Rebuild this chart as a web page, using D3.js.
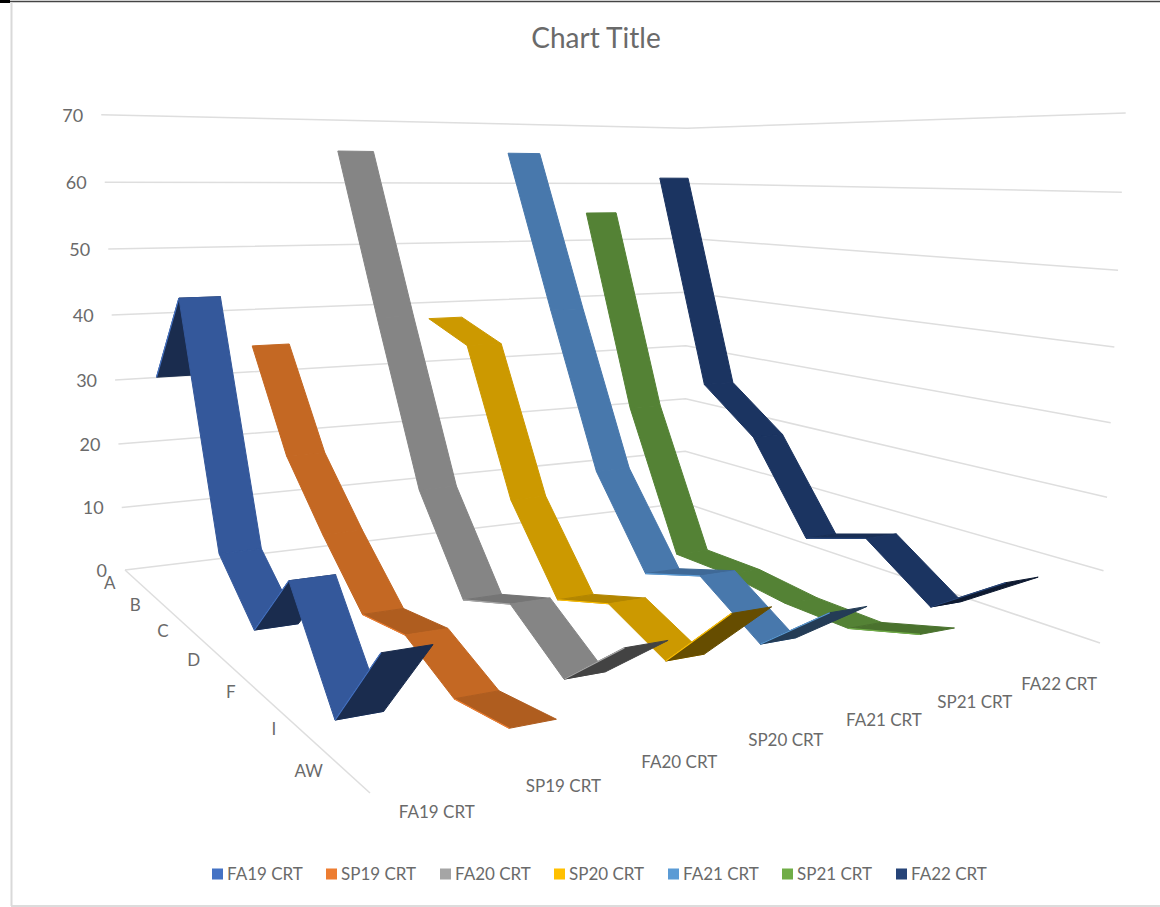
<!DOCTYPE html>
<html>
<head>
<meta charset="utf-8">
<title>Chart Title</title>
<script src="https://cdn.jsdelivr.net/npm/d3@7"></script>
<style>
  body { margin: 0; background: #fff; }
  text { font-family: Lato, "Open Sans", sans-serif; fill: #6a6a6a; }
</style>
</head>
<body>
<div id="chart"></div>
<script>
const width = 1160;
const height = 907;

const categories = ['A', 'B', 'C', 'D', 'F', 'I', 'AW'];
const seriesNames = ['FA19 CRT', 'SP19 CRT', 'FA20 CRT', 'SP20 CRT', 'FA21 CRT', 'SP21 CRT', 'FA22 CRT'];

const fa19 = [31, 44, 10, 3, 13, 0, 12];
const sp19 = [35, 20, 11, 3, 4, 0, 1];
const fa20 = [65, 40, 16, 3, 6, 0, 8];
const sp20 = [38, 35, 13, 1, 4, 0, 10];
const fa21 = [65, 40, 16, 3, 6, 0, 8];
const sp21 = [55, 23, 1, 1, 0, 0, 3];
const fa22 = [61, 26, 19, 5, 8, 1, 8];
const allSeries = [fa19, sp19, fa20, sp20, fa21, sp21, fa22];

const colors = ['#4472c4', '#ed7d31', '#a5a5a5', '#ffc000', '#5b9bd5', '#70ad47', '#264478'];
const ribbonColors = ['#34589b', '#c46823', '#858585', '#cc9900', '#4878ac', '#548235', '#1b3461'];

// walls and floor of the 3d box, as seen by the camera
const floorLeft = [125, 570], floorFront = [370, 793], floorRight = [1100, 643], floorBack = [685, 503];
const topLeft = [100, 119], topBack = [685, 126], topRight = [1130, 111];

function solveHomography(p0, p1, p2, p3) {
  const dx1 = p1[0] - p2[0], dx2 = p3[0] - p2[0], sx = p0[0] - p1[0] + p2[0] - p3[0];
  const dy1 = p1[1] - p2[1], dy2 = p3[1] - p2[1], sy = p0[1] - p1[1] + p2[1] - p3[1];
  const den = dx1 * dy2 - dx2 * dy1;
  const g = (sx * dy2 - dx2 * sy) / den;
  const h = (dx1 * sy - sx * dy1) / den;
  return {
    a: p1[0] - p0[0] + g * p1[0], b: p3[0] - p0[0] + h * p3[0], c: p0[0],
    d: p1[1] - p0[1] + g * p1[1], e: p3[1] - p0[1] + h * p3[1], f: p0[1],
    g, h
  };
}
const floorH = solveHomography(floorLeft, floorFront, floorRight, floorBack);

function floorCoords(u, v) {
  return [
    floorH.a * u + floorH.b * v + floorH.c,
    floorH.d * u + floorH.e * v + floorH.f,
    floorH.g * u + floorH.h * v + 1
  ];
}

// height column of the camera matrix, least squares over the three top corners.
// x rows get a low weight: the heights matter more than the lean of the walls
function solveHeight() {
  const rows = [];
  const xWeight = 0.05;
  [[0, 0, topLeft], [0, 1, topBack], [1, 1, topRight]].forEach(([u, v, p]) => {
    const [X, Y, W] = floorCoords(u, v);
    rows.push([xWeight, 0, -p[0] * xWeight, (p[0] * W - X) * xWeight]);
    rows.push([0, 1, -p[1], p[1] * W - Y]);
  });
  const m = [0, 1, 2].map(i => [0, 1, 2, 3].map(j => d3.sum(rows, r => r[i] * r[j])));
  for (let i = 0; i < 3; i++) {
    for (let k = 0; k < 3; k++) {
      if (k === i) continue;
      const f = m[k][i] / m[i][i];
      for (let j = i; j < 4; j++) m[k][j] -= f * m[i][j];
    }
  }
  return { p: m[0][3] / m[0][0], q: m[1][3] / m[1][1], r: m[2][3] / m[2][2] };
}
const heightCol = solveHeight();

const uScale = d3.scaleBand().domain(categories).range([0, 1]);
const vScale = d3.scaleBand().domain(seriesNames).range([0, 1]);
const hScale = d3.scaleLinear().domain([0, 70]).range([0, 1]);

const ribbonDepth = 0.057;

function project(u, v, value) {
  const [X, Y, W] = floorCoords(u, v);
  const t = hScale(value);
  const w = W + heightCol.r * t;
  return [(X + heightCol.p * t) / w, (Y + heightCol.q * t) / w];
}

const uMid = c => uScale(c) + uScale.bandwidth() / 2;
const vMid = s => vScale(s) + vScale.bandwidth() / 2;

// rising segments show their underside, the steeper the darker
const shade = d3.scaleLinear().domain([0, 5, 7]).range([0.9, 0.86, 0.5]).clamp(true);

function darken(color, k) {
  const c = d3.rgb(color);
  return d3.rgb(c.r * k, c.g * k, c.b * k).formatHex();
}

const svg = d3.select('#chart').append('svg')
  .attr('width', width)
  .attr('height', height);

svg.append('rect').attr('width', width).attr('height', height).attr('fill', '#fff');

// chart frame
svg.append('line').attr('x1', 0).attr('x2', width).attr('y1', 1.5).attr('y2', 1.5)
  .attr('stroke', '#444').attr('stroke-width', 1.5);
svg.append('line').attr('x1', 0).attr('x2', 10).attr('y1', 1.5).attr('y2', 1.5)
  .attr('stroke', '#000').attr('stroke-width', 3);
svg.append('line').attr('x1', 11.5).attr('x2', 11.5).attr('y1', 2).attr('y2', 906)
  .attr('stroke', '#d9d9d9').attr('stroke-width', 2);
svg.append('line').attr('x1', 11).attr('x2', width).attr('y1', 906).attr('y2', 906)
  .attr('stroke', '#dcdcdc').attr('stroke-width', 2);

svg.append('text')
  .attr('x', 596).attr('y', 48)
  .attr('text-anchor', 'middle')
  .style('font-size', '28px')
  .text('Chart Title');

// gridlines on the two walls
const line = d3.line();
const ticks = hScale.ticks(7);
svg.append('g').selectAll('path')
  .data(ticks)
  .enter()
  .append('path')
    .attr('d', d => line([project(0, 0, d), project(0, 1, d), project(1, 1, d)]))
    .attr('fill', 'none')
    .attr('stroke', '#dedede')
    .attr('stroke-width', 1.5);

svg.append('path')
  .attr('d', line([project(0, 0, 0), project(1, 0, 0)]))
  .attr('fill', 'none')
  .attr('stroke', '#dedede')
  .attr('stroke-width', 1.5);

svg.append('g').selectAll('text')
  .data(ticks)
  .enter()
  .append('text')
    .attr('x', d => project(0, 0, d)[0] - 18)
    .attr('y', d => project(0, 0, d)[1] + 7)
    .attr('text-anchor', 'end')
    .style('font-size', '18px')
    .text(d => d);

svg.append('g').selectAll('text')
  .data(categories)
  .enter()
  .append('text')
    .attr('x', d => project(uMid(d), 0, 0)[0] - 21)
    .attr('y', d => project(uMid(d), 0, 0)[1] + 8)
    .attr('text-anchor', 'end')
    .style('font-size', '17px')
    .text(d => d);

svg.append('g').selectAll('text')
  .data(seriesNames)
  .enter()
  .append('text')
    .attr('x', d => project(1, vMid(d), 0)[0] - 1)
    .attr('y', d => project(1, vMid(d), 0)[1] + 39)
    .attr('text-anchor', 'middle')
    .style('font-size', '17px')
    .text(d => d);

// ribbons, far series first so the nearer ones paint over them
const order = d3.range(seriesNames.length).reverse();
const ribbons = svg.append('g').selectAll('g')
  .data(order)
  .enter()
  .append('g');

ribbons.each(function(s) {
  const values = allSeries[s];
  const v = vMid(seriesNames[s]);
  const segs = d3.range(values.length - 1);
  const corners = (i, j) => project(uMid(categories[i]), v + j * ribbonDepth / 2, values[i]);

  d3.select(this).selectAll('g')
    .data(segs)
    .enter()
    .append('g')
    .each(function(i) {
      const seg = d3.select(this);
      const rise = values[i + 1] - values[i];
      const fill = rise > 0 ? darken(ribbonColors[s], shade(rise)) : ribbonColors[s];
      seg.append('path')
        .attr('d', line([corners(i, -1), corners(i, 1), corners(i + 1, 1), corners(i + 1, -1)]) + 'Z')
        .attr('fill', fill)
        .attr('stroke', fill)
        .attr('stroke-width', 1)
        .attr('stroke-linejoin', 'round');
      // thin lit edge on the near side
      if (rise > 0) {
        seg.append('path')
          .attr('d', line([corners(i, -1), corners(i + 1, -1)]))
          .attr('fill', 'none')
          .attr('stroke', colors[s])
          .attr('stroke-width', 1.2);
      }
    });
});

// legend along the bottom
const legendX = d3.scaleLinear().domain([0, 6]).range([212, 896]);
const legend = svg.append('g').selectAll('g')
  .data(seriesNames)
  .enter()
  .append('g')
    .attr('transform', (d, i) => `translate(${legendX(i)}, 874)`);

legend.append('rect')
  .attr('y', -5.5).attr('width', 11).attr('height', 11)
  .attr('fill', (d, i) => colors[i]);

legend.append('text')
  .attr('x', 15).attr('y', 6)
  .style('font-size', '17px')
  .text(d => d);
</script>
</body>
</html>
